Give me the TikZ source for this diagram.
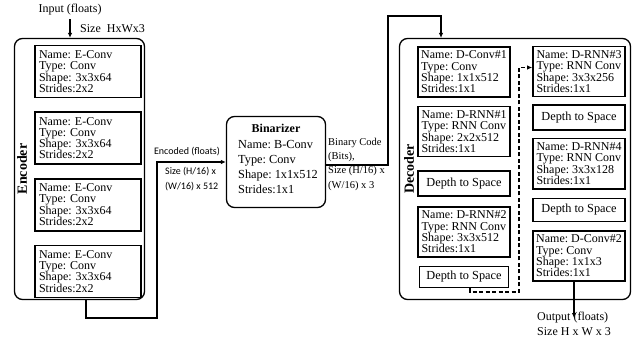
\documentclass[tikz,border=0pt]{standalone}
\usepackage{fontspec}
\setmainfont{Liberation Serif}
\newfontfamily\calibri{Carlito}
\usetikzlibrary{arrows.meta, positioning}
\frenchspacing

\tikzset{
  layer/.style={draw, line width=1.6pt, inner ysep=2pt, align=left, font=\fontsize{12}{11.3}\selectfont},
  enclayer/.style={layer, inner xsep=4pt, text width=98pt, minimum height=52pt},
  declayer/.style={layer, inner xsep=1pt, minimum width=92pt, minimum height=50pt},
  d2s/.style={draw, line width=1.6pt, align=center, minimum width=92pt, font=\fontsize{12.3}{14}\selectfont},
  block/.style={draw, line width=1.3pt, rounded corners=8pt},
  flow/.style={-{Latex[length=5pt,width=4.5pt]}, line width=1.3pt},
  note/.style={align=left, inner sep=0pt},
}

\begin{document}
\begin{tikzpicture}[x=1pt, y=-1pt, node distance=13pt, every node/.style={font=\fontsize{12}{14}\selectfont}]
  \useasboundingbox (0,0) rectangle (644,339);

  % encoder
  \node[block, minimum width=130pt, minimum height=261pt] (enc) at (79.5,169) {};
  \node[rotate=90, font=\fontsize{14}{14}\bfseries] (enclabel) at (22,169) {Encoder};
  \node[enclayer] (e1) at (88,71.5) {Name: E-Conv\\Type: Conv\\Shape: 3x3x64\\Strides:2x2};
  \node[enclayer, below=of e1] (e2) {Name: E-Conv\\Type: Conv\\Shape: 3x3x64\\Strides:2x2};
  \node[enclayer, below=of e2] (e3) {Name: E-Conv\\Type: Conv\\Shape: 3x3x64\\Strides:2x2};
  \node[enclayer, below=of e3] (e4) {Name: E-Conv\\Type: Conv\\Shape: 3x3x64\\Strides:2x2};

  \node (input) at (70,10) {Input (floats)};
  \node[anchor=west, inner sep=0pt] (insize) at (80,29) {Size\ \ HxWx3};
  \draw[flow] (input.south) -- (input.south |- enc.north);

  % binarizer
  \node[block, minimum width=99pt, minimum height=91pt] (bin) at (276,162) {};
  \node[font=\fontsize{12}{14}\bfseries] (bintitle) at (276,128) {Binarizer};
  \node[note, anchor=north west, font=\fontsize{12.3}{15}\selectfont] (binbody) at (238,140)
    {Name: B-Conv\\Type: Conv\\Shape: 1x1x512\\Strides:1x1};

  \coordinate (encout) at (86,300);
  \coordinate (encbend) at (157,318);
  \draw[flow] (encout) |- (encbend) |- (bin.west);
  \node[font=\calibri\fontsize{10}{15}\selectfont] (enclab) at (187,152) {Encoded (floats)};
  \node[note, anchor=north west, font=\calibri\fontsize{10}{15}\selectfont] (encsize) at (165,167)
    {Size (H/16) x\\(W/16) x 512};

  % decoder
  \node[block, minimum width=231pt, minimum height=261pt] (dec) at (515,169) {};
  \node[rotate=90, font=\fontsize{14}{14}\bfseries] (declabel) at (409,169) {Decoder};

  \node[declayer] (dconv1) at (464,72) {Name: D-Conv\#1\\Type: Conv\\Shape: 1x1x512\\Strides:1x1};
  \node[declayer, below=8pt of dconv1] (drnn1) {Name: D-RNN\#1\\Type: RNN Conv\\Shape: 2x2x512\\Strides:1x1};
  \node[d2s, minimum height=25pt, below=of drnn1] (dts1) {Depth to Space};
  \node[declayer, below=9pt of dts1] (drnn2) {Name: D-RNN\#2\\Type: RNN Conv\\Shape: 3x3x512\\Strides:1x1};
  \node[d2s, minimum width=89pt, minimum height=21pt, below=8pt of drnn2] (dts2) {Depth to Space};

  \node[declayer] (drnn3) at (579,71.5) {Name: D-RNN\#3\\Type: RNN Conv\\Shape: 3x3x256\\Strides:1x1};
  \node[d2s, minimum height=25pt, below=7pt of drnn3] (dts3) {Depth to Space};
  \node[declayer, below=7pt of dts3] (drnn4) {Name: D-RNN\#4\\Type: RNN Conv\\Shape: 3x3x128\\Strides:1x1};
  \node[d2s, minimum height=23pt, below=8pt of drnn4] (dts4) {Depth to Space};
  \node[declayer, below=8pt of dts4] (dconv2) {Name: D-Conv\#2\\Type: Conv\\Shape: 1x1x3\\Strides:1x1};

  \coordinate (dashbend) at (519,292);
  \draw[flow, dash pattern=on 4pt off 2.5pt] ([xshift=6pt]dts2.south) |- (dashbend) |- ([yshift=4pt]drnn3.west);

  \coordinate (binbend) at (388,16);
  \coordinate (decin) at (441,38);
  \draw[flow] ([yshift=-3pt]bin.east) -| (binbend) -| (decin);
  \node[note, anchor=south west, font=\fontsize{10.5}{14}\selectfont] (binlab) at (328,162)
    {Binary Code\\(Bits),};
  \node[note, anchor=north west, font=\fontsize{10.5}{15}\selectfont] (binsize) at (328,166)
    {Size (H/16) x\\(W/16) x 3};

  \node[note, font=\fontsize{12}{15}\selectfont] (output) at (574,323.5) {Output (floats)\\Size H x W x 3};
  \coordinate (outtip) at (574,318);
  \draw[flow] (dconv2.south -| outtip) -- (outtip);
\end{tikzpicture}
\end{document}
